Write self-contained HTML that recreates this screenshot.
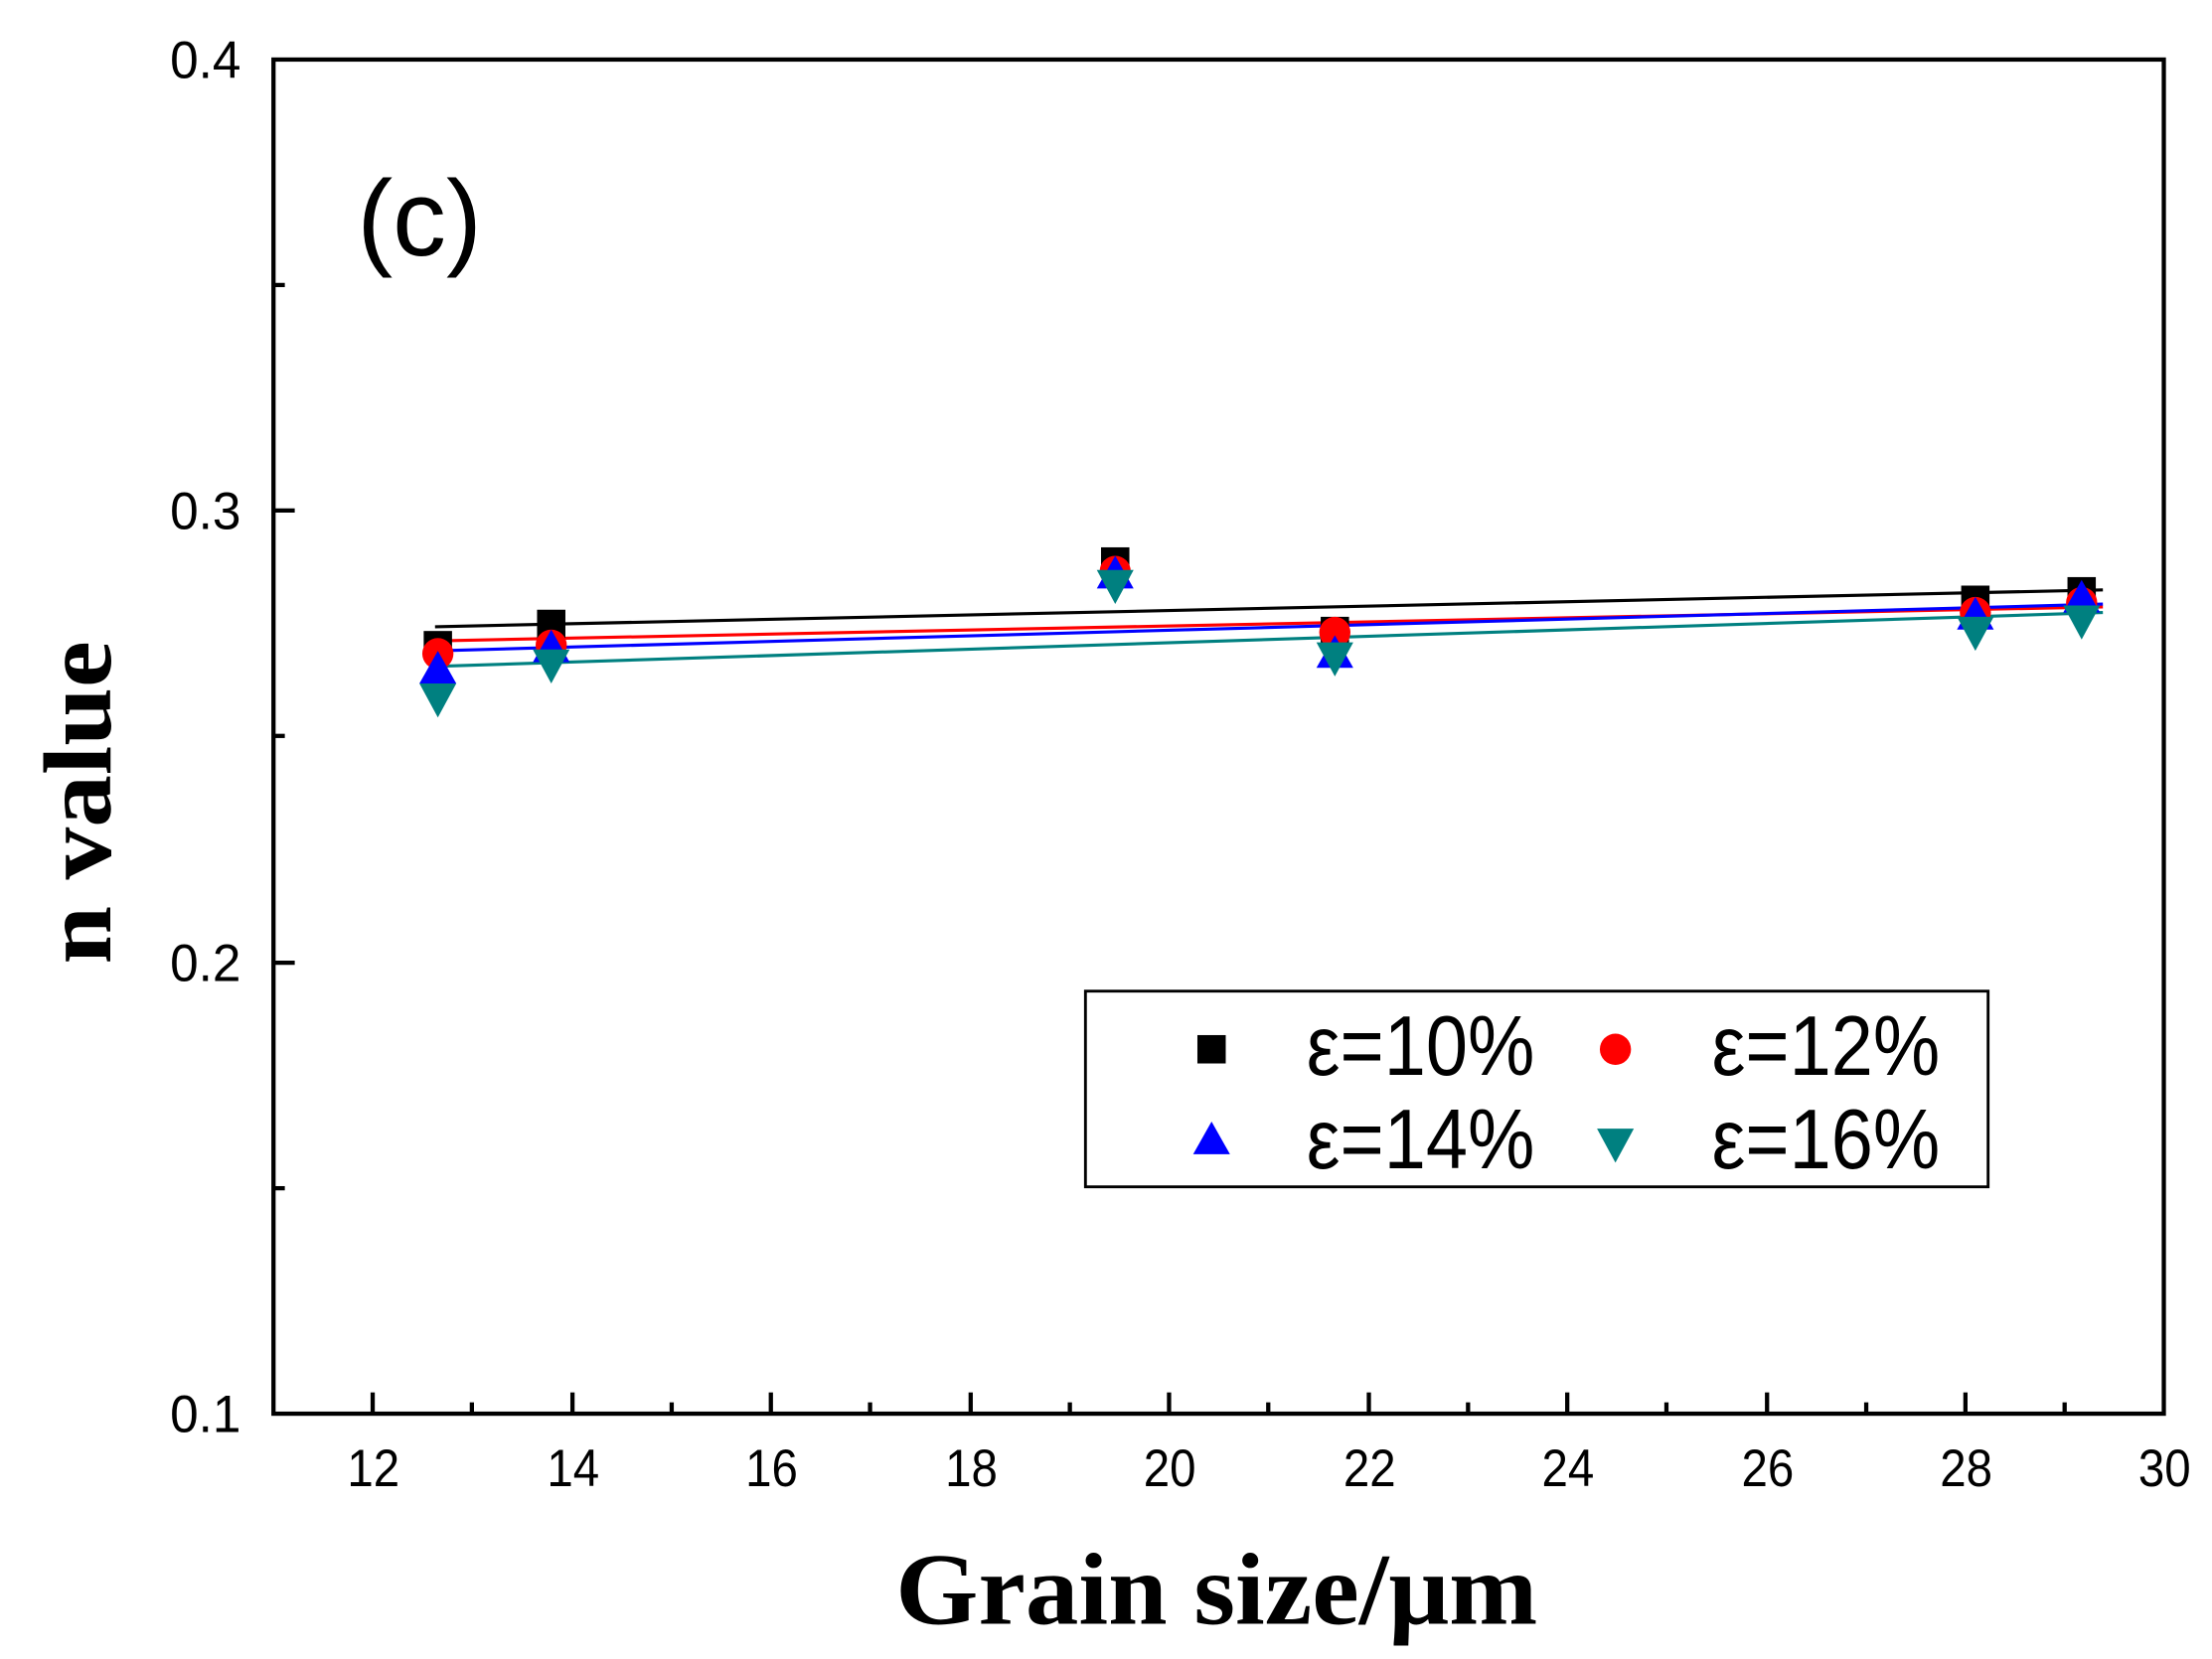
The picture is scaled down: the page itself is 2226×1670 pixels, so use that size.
<!DOCTYPE html>
<html><head><meta charset="utf-8"><style>
html,body{margin:0;padding:0;background:#fff;}
svg{display:block;}
</style></head><body>
<svg width="2226" height="1670" viewBox="0 0 1561 1170" preserveAspectRatio="none" xmlns="http://www.w3.org/2000/svg">
<defs>
<symbol id="sq" overflow="visible"><rect x="-10" y="-10" width="20" height="20" fill="#000"/></symbol>
<symbol id="ci" overflow="visible"><circle r="11" fill="#f00"/></symbol>
<symbol id="tu" overflow="visible"><polygon points="0,-13 13,10 -13,10" fill="#00f"/></symbol>
<symbol id="td" overflow="visible"><polygon points="0,14 13,-10 -13,-10" fill="#008080"/></symbol>
</defs>
<rect x="193" y="42" width="1334" height="955" fill="none" stroke="#000" stroke-width="3"/>
<g stroke="#000" stroke-width="3">
<line x1="193" y1="360" x2="208" y2="360"/><line x1="193" y1="679" x2="208" y2="679"/>
<line x1="193" y1="201" x2="201" y2="201"/><line x1="193" y1="519" x2="201" y2="519"/><line x1="193" y1="838" x2="201" y2="838"/>
<line x1="263" y1="997" x2="263" y2="982"/><line x1="404" y1="997" x2="404" y2="982"/><line x1="544" y1="997" x2="544" y2="982"/><line x1="685" y1="997" x2="685" y2="982"/><line x1="825" y1="997" x2="825" y2="982"/><line x1="966" y1="997" x2="966" y2="982"/><line x1="1106" y1="997" x2="1106" y2="982"/><line x1="1247" y1="997" x2="1247" y2="982"/><line x1="1387" y1="997" x2="1387" y2="982"/>
<line x1="333" y1="997" x2="333" y2="989"/><line x1="474" y1="997" x2="474" y2="989"/><line x1="614" y1="997" x2="614" y2="989"/><line x1="755" y1="997" x2="755" y2="989"/><line x1="895" y1="997" x2="895" y2="989"/><line x1="1036" y1="997" x2="1036" y2="989"/><line x1="1176" y1="997" x2="1176" y2="989"/><line x1="1317" y1="997" x2="1317" y2="989"/><line x1="1457" y1="997" x2="1457" y2="989"/>
</g>
<g font-family="Liberation Sans, sans-serif" font-size="37" fill="#000">
<text x="120" y="55" textLength="50" lengthAdjust="spacingAndGlyphs">0.4</text>
<text x="120" y="373" textLength="50" lengthAdjust="spacingAndGlyphs">0.3</text>
<text x="120" y="692" textLength="50" lengthAdjust="spacingAndGlyphs">0.2</text>
<text x="120" y="1010" textLength="50" lengthAdjust="spacingAndGlyphs">0.1</text>
<text x="245" y="1048" textLength="37" lengthAdjust="spacingAndGlyphs">12</text>
<text x="386" y="1048" textLength="37" lengthAdjust="spacingAndGlyphs">14</text>
<text x="526" y="1048" textLength="37" lengthAdjust="spacingAndGlyphs">16</text>
<text x="667" y="1048" textLength="37" lengthAdjust="spacingAndGlyphs">18</text>
<text x="807" y="1048" textLength="37" lengthAdjust="spacingAndGlyphs">20</text>
<text x="948" y="1048" textLength="37" lengthAdjust="spacingAndGlyphs">22</text>
<text x="1088" y="1048" textLength="37" lengthAdjust="spacingAndGlyphs">24</text>
<text x="1229" y="1048" textLength="37" lengthAdjust="spacingAndGlyphs">26</text>
<text x="1369" y="1048" textLength="37" lengthAdjust="spacingAndGlyphs">28</text>
<text x="1509" y="1048" textLength="37" lengthAdjust="spacingAndGlyphs">30</text>
</g>
<text x="252" y="180" font-family="Liberation Sans, sans-serif" font-size="76" textLength="88" lengthAdjust="spacingAndGlyphs">(c)</text>
<text x="632" y="1145" font-family="Liberation Serif, serif" font-weight="bold" font-size="72" textLength="453" lengthAdjust="spacingAndGlyphs">Grain size/μm</text>
<text transform="translate(78,680) rotate(-90)" font-family="Liberation Serif, serif" font-weight="bold" font-size="68" textLength="228" lengthAdjust="spacingAndGlyphs">n value</text>
<g stroke-width="2.2">
<line x1="307" y1="442" x2="1484" y2="416" stroke="#000"/>
<line x1="307" y1="452" x2="1484" y2="428" stroke="#f00"/>
<line x1="307" y1="459" x2="1484" y2="426" stroke="#00f"/>
<line x1="307" y1="470" x2="1484" y2="432" stroke="#008080"/>
</g>
<use href="#sq" x="309" y="455"/><use href="#sq" x="389" y="440"/><use href="#sq" x="787" y="396"/><use href="#sq" x="942" y="445"/><use href="#sq" x="1394" y="423"/><use href="#sq" x="1469" y="417"/>
<use href="#ci" x="309" y="461"/><use href="#ci" x="389" y="455"/><use href="#ci" x="787" y="403"/><use href="#ci" x="942" y="446"/><use href="#ci" x="1394" y="432"/><use href="#ci" x="1469" y="425"/>
<use href="#tu" x="309" y="472"/><use href="#tu" x="389" y="457"/><use href="#tu" x="787" y="405"/><use href="#tu" x="942" y="461"/><use href="#tu" x="1394" y="434"/><use href="#tu" x="1469" y="422"/>
<use href="#td" x="309" y="492"/><use href="#td" x="389" y="468"/><use href="#td" x="787" y="412"/><use href="#td" x="942" y="463"/><use href="#td" x="1394" y="445"/><use href="#td" x="1469" y="437"/>
<rect x="766" y="699" width="637" height="138" fill="#fff" stroke="#000" stroke-width="2"/>
<use href="#sq" x="855" y="740"/><use href="#ci" x="1140" y="740"/><use href="#tu" x="855" y="804"/><use href="#td" x="1140" y="806"/>
<g font-family="Liberation Sans, sans-serif" font-size="60" fill="#000">
<text x="922" y="758" textLength="161" lengthAdjust="spacingAndGlyphs">ε=10%</text>
<text x="1208" y="758" textLength="161" lengthAdjust="spacingAndGlyphs">ε=12%</text>
<text x="922" y="824" textLength="161" lengthAdjust="spacingAndGlyphs">ε=14%</text>
<text x="1208" y="824" textLength="161" lengthAdjust="spacingAndGlyphs">ε=16%</text>
</g>
</svg>
</body></html>
